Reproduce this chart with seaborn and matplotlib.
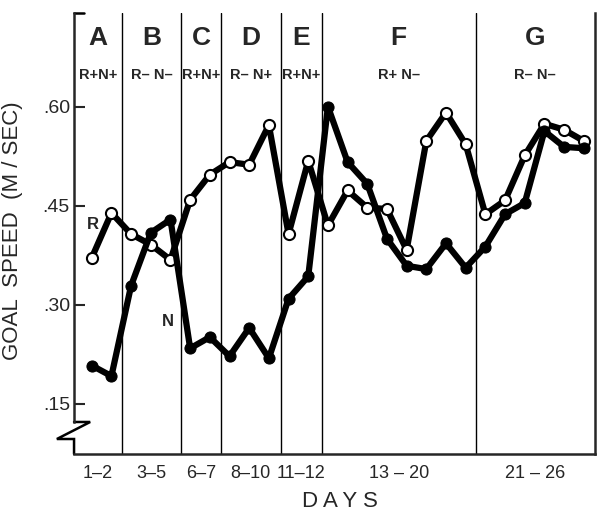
import numpy as np
import pandas as pd
import matplotlib
matplotlib.use("Agg")
import matplotlib.pyplot as plt
import matplotlib.transforms as mtransforms
import seaborn as sns

# Data
days = list(range(1, 27))
r_speed = [0.371, 0.439, 0.407, 0.391, 0.368, 0.459, 0.497, 0.516, 0.512, 0.572,
           0.407, 0.518, 0.420, 0.473, 0.447, 0.445, 0.383, 0.548, 0.591, 0.543,
           0.437, 0.458, 0.526, 0.574, 0.565, 0.548]
n_speed = [0.208, 0.192, 0.329, 0.409, 0.429, 0.234, 0.251, 0.222, 0.265, 0.219,
           0.309, 0.343, 0.600, 0.516, 0.483, 0.400, 0.359, 0.354, 0.393, 0.356,
           0.388, 0.437, 0.454, 0.563, 0.539, 0.537]
phases = ["A", "B", "C", "D", "E", "F", "G"]
conditions = ["R+N+", "R\u2013 N\u2013", "R+N+", "R\u2013 N+", "R+N+", "R+ N\u2013", "R\u2013 N\u2013"]
day_ranges = ["1\u20132", "3\u20135", "6\u20137", "8\u201310", "11\u201312", "13 \u2013 20", "21 \u2013 26"]
boundaries = [2.55, 5.55, 7.55, 10.6, 12.7, 20.5]
yticks = [0.15, 0.30, 0.45, 0.60]
ytick_labels = [".15", ".30", ".45", ".60"]

df = pd.DataFrame({"day": days, "R": r_speed, "N": n_speed})

sns.set_style("ticks")
plt.rcParams['font.family'] = ['Liberation Sans', 'DejaVu Sans']

fig = plt.figure(figsize=(6.02, 5.13), dpi=100)
ax = fig.add_axes([0.123, 0.115, 0.865, 0.86])

xlim = (0.1, 26.56)
ylim = (0.074, 0.742)
ax.set_xlim(*xlim)
ax.set_ylim(*ylim)

# phase dividers
for b in boundaries:
    ax.axvline(b, color="black", lw=1.0, zorder=1)

# R line (open circles), then N line (filled) on top
sns.lineplot(data=df, x="day", y="R", ax=ax, color="black", lw=4.5,
             marker="o", markersize=8, markerfacecolor="white",
             markeredgecolor="black", markeredgewidth=1.5, zorder=3)
sns.lineplot(data=df, x="day", y="N", ax=ax, color="black", lw=4.5,
             marker="o", markersize=8, markerfacecolor="black",
             markeredgecolor="black", zorder=4)

# phase letters and conditions
edges = [xlim[0]] + boundaries + [xlim[1]]
centers = [(edges[i] + edges[i + 1]) / 2 for i in range(len(phases))]
trans = mtransforms.blended_transform_factory(ax.transData, ax.transAxes)
for c, p, cond in zip(centers, phases, conditions):
    ax.text(c, 0.943, p, transform=trans, ha="center", va="center",
            fontsize=19, fontweight="bold")
    ax.text(c, 0.859, cond, transform=trans, ha="center", va="center",
            fontsize=10.5, fontweight="bold")

# series labels
ax.text(1.07, 0.421, "R", ha="center", va="center", fontsize=12, fontweight="bold")
ax.text(4.87, 0.274, "N", ha="center", va="center", fontsize=12, fontweight="bold")

# axes styling
ax.spines["top"].set_visible(False)
for s in ["left", "bottom", "right"]:
    ax.spines[s].set_linewidth(1.8)
ax.spines["left"].set_bounds(0.1228, ylim[1])
ax.set_yticks(yticks, ytick_labels)
ax.set_xticks(centers, day_ranges)
ax.tick_params(axis="y", direction="in", length=8, width=1.5, labelsize=14, pad=3)
ax.tick_params(axis="x", length=0, labelsize=13, pad=8)

ax.set_ylabel("GOAL  SPEED  (M / SEC)", fontsize=16)
ax.yaxis.set_label_coords(-0.098, 0.506)
ax.set_xlabel("D A Y S", fontsize=16)
ax.xaxis.set_label_coords(0.51, -0.083)

# little top-left bracket and axis break mark
ax.plot([0, 0.02], [1, 1], transform=ax.transAxes, color="black", lw=1.8, clip_on=False)
ax.plot([0.0, 0.031, -0.033, 0.0, 0.0], [0.0726, 0.0726, 0.034, 0.034, 0.0],
        transform=ax.transAxes, color="black", lw=1.8, clip_on=False,
        solid_joinstyle="miter")

plt.savefig("out.png", dpi=100)
